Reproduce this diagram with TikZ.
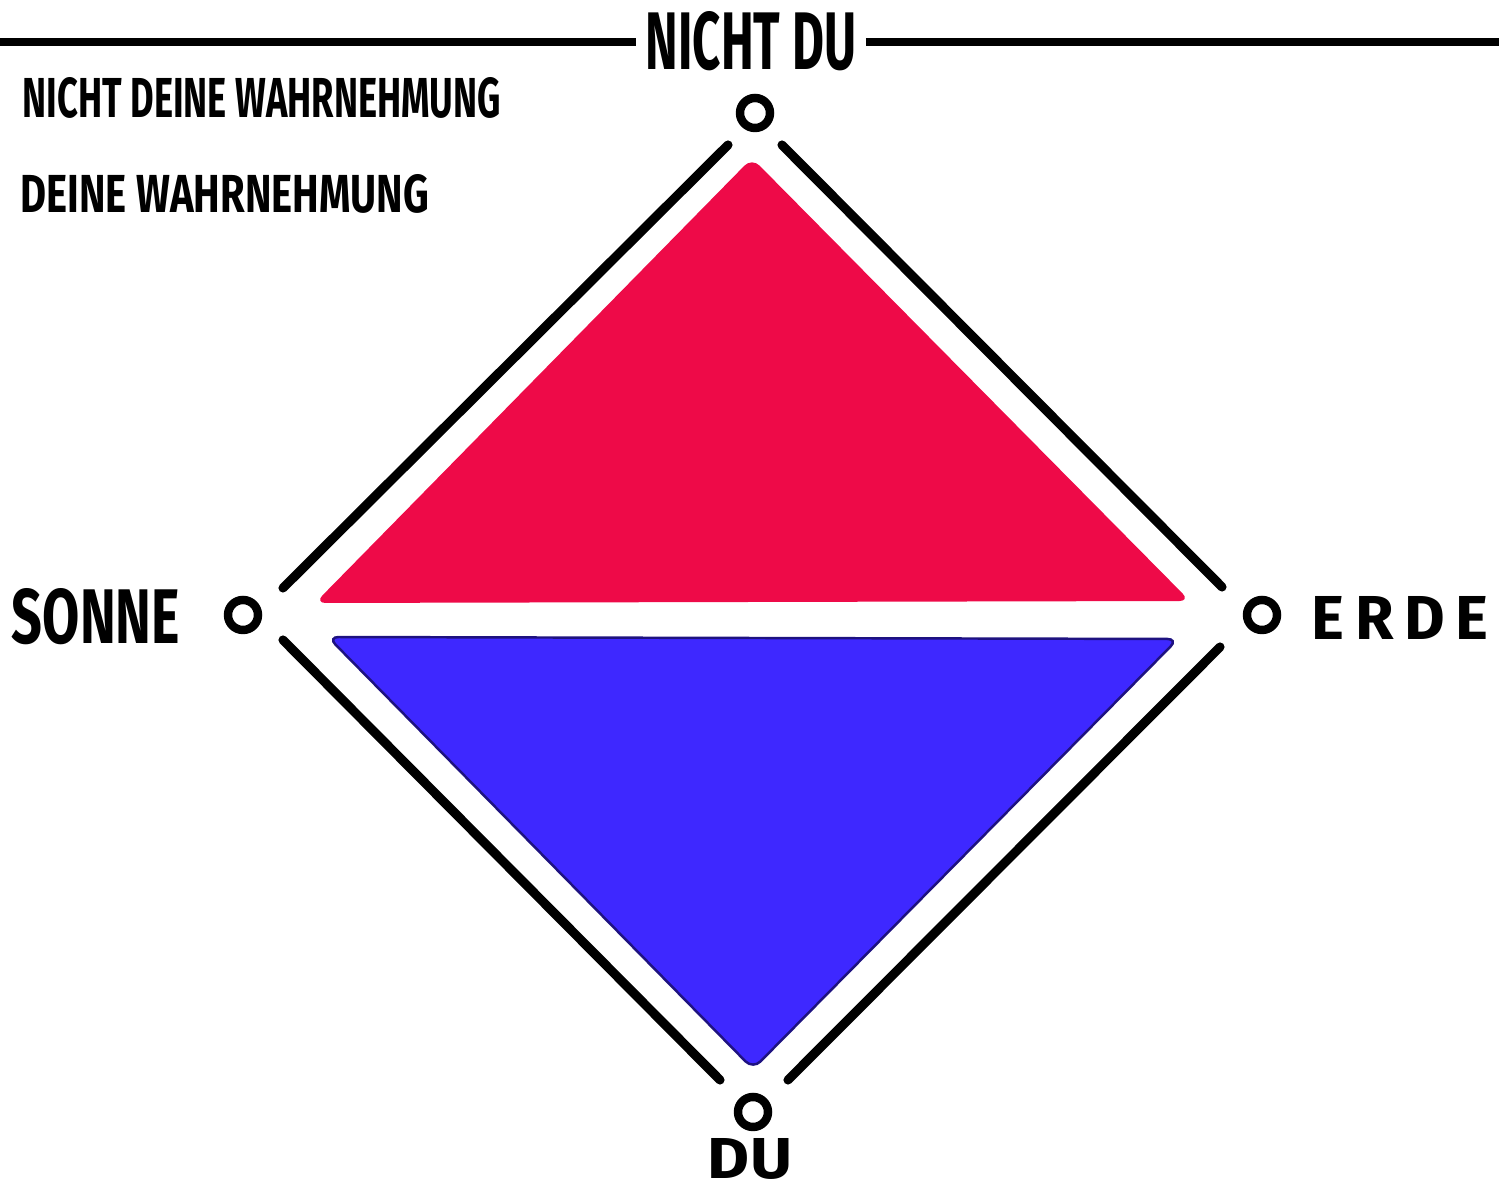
\documentclass[tikz,border=0pt]{standalone}
\usepackage{fontspec}
\setmainfont{Fira Sans}
\usepackage{graphicx}
\usetikzlibrary{positioning,calc}
\definecolor{triRed}{HTML}{EE0A48}
\definecolor{triBlue}{HTML}{3E28FF}
\definecolor{triEdge}{HTML}{1E1280}

\tikzset{
    ring/.style={circle,draw,line width=2.4pt,minimum size=0.30cm,inner sep=0pt},
    side/.style={line width=2.6pt,line cap=round},
    hand/.style={inner sep=0pt,font=\bfseries},
}
\newcommand{\handtext}[3]{\resizebox{#1cm}{#2cm}{#3}}

\begin{document}
\begin{tikzpicture}[x=0.01cm,y=-0.01cm]
            \useasboundingbox (0,0) rectangle (1499,1189);
            % title with rule
            \node[hand] (title) at (751,41) {\handtext{2.10}{0.58}{NICHT DU}};
            \coordinate (ruleL) at (0,42);
            \coordinate (ruleR) at (1499,42);
            \draw[line width=2.3pt] (ruleL) -- ([xshift=-0.09cm]title.west |- ruleL);
            \draw[line width=2.3pt] ([xshift=0.09cm]title.east |- ruleR) -- (ruleR);
            % legend
            \node[hand,anchor=west] (notmine) at (22,98) {\handtext{4.78}{0.40}{NICHT DEINE WAHRNEHMUNG}};
            \node[hand,anchor=west] (mine) at (20,194) {\handtext{4.08}{0.38}{DEINE WAHRNEHMUNG}};
            % triangles
            \fill[triRed,rounded corners=3pt] (752,158) -- (1190,601) -- (315,603) -- cycle;
            \filldraw[fill=triBlue,draw=triEdge,line width=0.7pt,rounded corners=3pt] (328,637) -- (1178,639) -- (753,1069) -- cycle;
            % diamond sides
            \foreach \xa/\ya/\xb/\yb in {283/588/728/145, 782/145/1222/587, 283/640/720/1080, 1220/647/788/1080} {
                \draw[side] (\xa,\ya) -- (\xb,\yb);
            }
            % corner points
            \node[ring] (nichtdu) at (755,113) {};
            \node[ring] (sonne) at (243,615) {};
            \node[ring] (erde) at (1262,615) {};
            \node[ring] (du) at (753,1112) {};
            \node[hand] (sonneL) at (96,617) {\handtext{1.68}{0.55}{SONNE}};
            \node[hand] (erdeL) at (1400,618) {\handtext{1.76}{0.43}{E\,R\,D\,E}};
            \node[hand] (duL) at (750,1159) {\handtext{0.84}{0.40}{DU}};
\end{tikzpicture}
\end{document}
